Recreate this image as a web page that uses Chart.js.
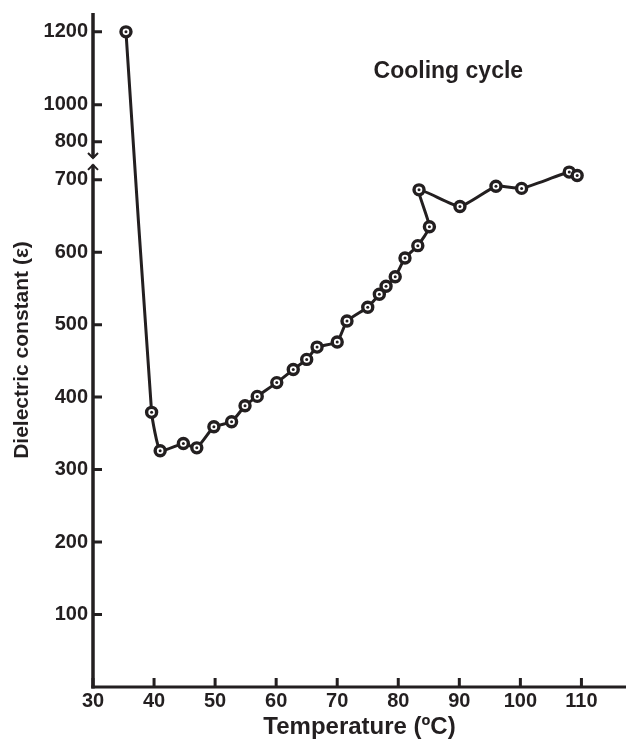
<!DOCTYPE html>
<html>
<head>
<meta charset="utf-8">
<script src="https://cdn.jsdelivr.net/npm/chart.js@4"></script>
<style>
  html, body { margin: 0; padding: 0; background: #fff; }
  #wrap { width: 626px; height: 743px; }
</style>
</head>
<body>
<div id="wrap"><canvas id="dielectricChart"></canvas></div>
<script>
// values (cooling cycle), in path order
const tempC = [35.4, 39.6, 41.0, 44.8, 47.0, 49.8, 52.7, 54.9, 56.9, 60.1, 62.8, 65.0, 66.7, 70.0, 71.6, 75.0, 76.9, 78.0, 79.5, 81.1, 83.2, 85.1, 83.4, 90.1, 96.0, 100.2, 108.0, 109.3];
const epsilon = [1200, 379, 326, 336, 330, 359, 366, 388, 401, 420, 438, 452, 469, 476, 505, 524, 542, 553, 566, 592, 609, 635, 686, 663, 691, 688, 720, 711];

const xTicks = [30, 40, 50, 60, 70, 80, 90, 100, 110];
const yTicks = [100, 200, 300, 400, 500, 600, 700, 800, 1000, 1200];

// broken y axis: real value -> axis units
const yRealAnchors = [0, 700, 800, 1000, 1200];
const yAxisAnchors = [0, 700, 752.5, 803.5, 904];
const yBreak = [739, 757];

const ink = '#231f20';
const boldFont = size => ({ family: '"Liberation Sans", Arial, sans-serif', size: size, weight: 'bold' });

function toAxisUnits(v) {
    for (let i = 1; i < yRealAnchors.length; i++) {
        if (v <= yRealAnchors[i] || i === yRealAnchors.length - 1) {
            const a = yRealAnchors[i - 1], b = yRealAnchors[i];
            const t = (v - a) / (b - a);
            return yAxisAnchors[i - 1] + t * (yAxisAnchors[i] - yAxisAnchors[i - 1]);
        }
    }
    return v;
}

class BrokenScale extends Chart.LinearScale {
    getPixelForValue(value) {
        return super.getPixelForValue(toAxisUnits(value));
    }
}
BrokenScale.id = 'broken';
BrokenScale.defaults = Chart.LinearScale.defaults;
Chart.register(BrokenScale);

const axesPlugin = {
    id: 'axesPlugin',
    afterDraw(chart) {
        const ctx = chart.ctx;
        const xs = chart.scales.x, ys = chart.scales.y;
        const area = chart.chartArea;
        ctx.save();
        ctx.strokeStyle = ink;
        ctx.lineWidth = 3;
        ctx.lineCap = 'butt';

        // x axis line
        ctx.beginPath();
        ctx.moveTo(area.left - 1.75, area.bottom);
        ctx.lineTo(area.right, area.bottom);
        ctx.stroke();

        // y axis in two pieces with break arrows
        const x0 = area.left;
        const yLow = ys.getPixelForValue(yBreak[0]);
        const yHigh = ys.getPixelForValue(yBreak[1]);
        ctx.lineWidth = 3.5;
        ctx.beginPath();
        ctx.moveTo(x0, area.top);
        ctx.lineTo(x0, yHigh);
        ctx.moveTo(x0, yLow);
        ctx.lineTo(x0, area.bottom + 1.5);
        ctx.stroke();
        ctx.lineWidth = 2;
        ctx.beginPath();
        ctx.moveTo(x0 - 5, yHigh - 5);
        ctx.lineTo(x0, yHigh);
        ctx.lineTo(x0 + 5, yHigh - 5);
        ctx.moveTo(x0 - 5, yLow + 5);
        ctx.lineTo(x0, yLow);
        ctx.lineTo(x0 + 5, yLow + 5);
        ctx.stroke();

        // inward tick marks
        ctx.lineWidth = 3;
        ctx.beginPath();
        xs.ticks.forEach((t, i) => {
            const px = xs.getPixelForTick(i);
            ctx.moveTo(px, area.bottom);
            ctx.lineTo(px, area.bottom - 9);
        });
        ys.ticks.forEach((t, i) => {
            const py = ys.getPixelForTick(i);
            ctx.moveTo(x0, py);
            ctx.lineTo(x0 + 9, py);
        });
        ctx.stroke();

        // caption
        ctx.fillStyle = ink;
        ctx.font = 'bold 23px "Liberation Sans", Arial, sans-serif';
        ctx.textAlign = 'center';
        ctx.textBaseline = 'middle';
        ctx.fillText('Cooling cycle', xs.getPixelForValue(88.2), ys.getPixelForValue(1092));
        ctx.restore();
    }
};

const points = tempC.map((t, i) => ({ x: t, y: epsilon[i] }));

new Chart(document.getElementById('dielectricChart'), {
    type: 'scatter',
    data: {
        datasets: [{
            data: points,
            order: 0,
            showLine: false,
            pointRadius: 1.5,
            pointBackgroundColor: ink,
            pointBorderWidth: 0
        }, {
            data: points,
            order: 1,
            showLine: true,
            tension: 0.15,
            borderColor: ink,
            borderWidth: 3,
            pointRadius: 5,
            pointBorderWidth: 3.4,
            pointBorderColor: ink,
            pointBackgroundColor: '#fff'
        }]
    },
    options: {
        responsive: true,
        maintainAspectRatio: false,
        animation: false,
        events: [],
        layout: { autoPadding: false, padding: { top: 13, right: 0, bottom: 0, left: 0 } },
        plugins: {
            legend: { display: false },
            tooltip: { enabled: false }
        },
        scales: {
            x: {
                type: 'linear',
                min: 30,
                max: 117.3,
                afterBuildTicks: s => { s.ticks = xTicks.map(v => ({ value: v })); },
                afterFit: s => { s.height = 56; s.paddingLeft = 0; s.paddingRight = 0; },
                grid: { display: false, drawTicks: false },
                border: { display: false },
                ticks: {
                    autoSkip: false,
                    maxRotation: 0,
                    color: ink,
                    font: boldFont(20),
                    padding: 2,
                    callback: v => v
                },
                title: {
                    display: true,
                    text: 'Temperature (ºC)',
                    color: ink,
                    font: boldFont(24),
                    padding: { top: 0, bottom: 1 }
                }
            },
            y: {
                type: 'broken',
                min: 0,
                max: 930,
                afterBuildTicks: s => { s.ticks = yTicks.map(v => ({ value: v })); },
                afterFit: s => { s.width = 93; s.paddingTop = 0; s.paddingBottom = 0; },
                grid: { display: false, drawTicks: false },
                border: { display: false },
                ticks: {
                    autoSkip: false,
                    color: ink,
                    font: boldFont(20),
                    padding: 5,
                    callback: v => v
                },
                title: {
                    display: true,
                    text: 'Dielectric constant (ε)',
                    color: ink,
                    font: boldFont(21),
                    padding: { top: 10, bottom: 0 }
                }
            }
        }
    },
    plugins: [axesPlugin]
});
</script>
</body>
</html>
